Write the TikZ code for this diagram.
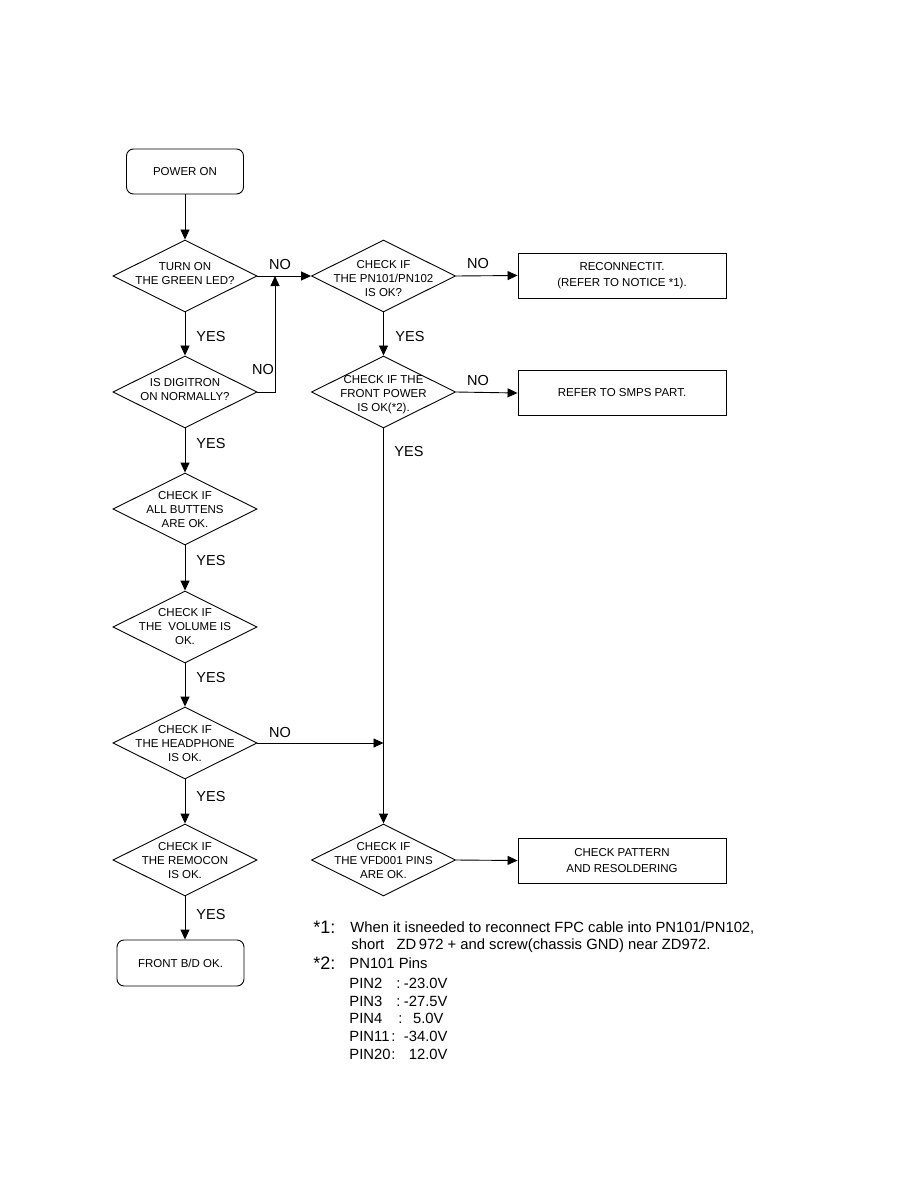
\documentclass[tikz,border=0pt]{standalone}
\usepackage{fontspec}
\setmainfont{Liberation Sans}
\usetikzlibrary{shapes.geometric,arrows.meta}
\newcommand{\pinline}[4]{\makebox[#1][l]{#2}:\makebox[#3][r]{#4}}
\begin{document}
\begin{tikzpicture}[x=1pt,y=-1pt,
 line width=0.9pt,
 every node/.style={inner sep=0pt},
 dia/.style={draw,shape=diamond,minimum width=144pt,minimum height=72pt,inner sep=0pt},
 dtext/.style={font=\fontsize{11.5}{14}\selectfont,align=center},
 rbox/.style={draw,rounded corners=7pt,font=\fontsize{11.5}{14}\selectfont,align=center},
 sbox/.style={draw,minimum width=208pt,minimum height=45pt,font=\fontsize{11.5}{16}\selectfont,align=center},
 lbl/.style={font=\fontsize{14.5}{17}\selectfont},
 arr/.style={-{Triangle[length=10pt,width=9pt]}},
 note/.style={font=\fontsize{14.8}{17}\selectfont,anchor=base west},
 star/.style={font=\fontsize{18}{20}\selectfont,anchor=base west},
]
\useasboundingbox[fill=white] (0,0) rectangle (914,1190);

% left column
\node[rbox,minimum width=117pt,minimum height=45pt] (pon) at (185,171.5) {POWER ON};
\node[dia] (d1) at (185,276) {};
\node[dtext] (d1t) at (185,274) {TURN ON\\THE GREEN LED?};
\node[dia] (d2) at (185,392) {};
\node[dtext] (d2t) at (185,390) {IS DIGITRON\\ON NORMALLY?};
\node[dia] (d3) at (185,509) {};
\node[dtext] (d3t) at (185,510) {CHECK IF\\ALL BUTTENS\\ARE OK.};
\node[dia] (d4) at (185,627) {};
\node[dtext] (d4t) at (185,627) {CHECK IF\\THE\ \ VOLUME IS\\OK.};
\node[dia] (d5) at (185,743) {};
\node[dtext] (d5t) at (185,744) {CHECK IF\\THE HEADPHONE\\IS OK.};
\node[dia] (d6) at (185,860) {};
\node[dtext] (d6t) at (185,861) {CHECK IF\\THE REMOCON\\IS OK.};
\node[rbox,minimum width=127pt,minimum height=46pt] (fin) at (180.5,963) {FRONT B/D OK.};

% right column
\node[dia] (r1) at (383.5,276) {};
\node[dtext] (r1t) at (383.5,279) {CHECK IF\\THE PN101/PN102\\IS OK?};
\node[dia] (r2) at (383.5,392) {};
\node[dtext] (r2t) at (383.5,395) {CHECK IF THE\\FRONT POWER\\IS OK(*2).};
\node[dia] (r3) at (383.5,860) {};
\node[dtext] (r3t) at (383.5,861) {CHECK IF\\THE VFD001 PINS\\ARE OK.};

\node[sbox] (b1) at (622,275.5) {RECONNECTIT.\\(REFER TO NOTICE *1).};
\node[sbox] (b2) at (622,393) {REFER TO SMPS PART.};
\node[sbox] (b3) at (622,860.5) {CHECK PATTERN\\AND RESOLDERING};

% connectors
\coordinate (j1) at (275,276);
\coordinate (j2) at (383.5,743);
\draw[arr] (pon) -- (d1);
\draw[arr] (d1) -- (d2);
\draw[arr] (d2) -- (d3);
\draw[arr] (d3) -- (d4);
\draw[arr] (d4) -- (d5);
\draw[arr] (d5) -- (d6);
\draw[arr] (d6.south) -- (d6.south |- fin.north);
\draw[arr] (d1.east) -- (r1.west);
\draw[arr] (d2.east) -| (j1);
\draw[arr] (r1.east) -- (b1.west);
\draw[arr] (r1) -- (r2);
\draw[arr] (r2.east) -- (b2.west);
\draw[arr] (r2) -- (r3);
\draw[arr] (d5.east) -- (j2);
\draw[arr] (r3.east) -- (b3.west);

% labels
\node[lbl] (y1) at (211,337) {YES};
\node[lbl] (y2) at (211,444) {YES};
\node[lbl] (y3) at (211,561) {YES};
\node[lbl] (y4) at (211,678) {YES};
\node[lbl] (y5) at (211,796) {YES};
\node[lbl] (y6) at (211,914) {YES};
\node[lbl] (y7) at (410,337) {YES};
\node[lbl] (y8) at (409,452) {YES};
\node[lbl] (n1) at (280,265) {NO};
\node[lbl] (n2) at (263,370) {NO};
\node[lbl] (n3) at (478,264) {NO};
\node[lbl] (n4) at (478,381) {NO};
\node[lbl] (n5) at (280,733) {NO};

% notes (baselines)
\node[star] (s1) at (313,933) {*1:};
\node[note] (t1a) at (350,932) {When it isneeded to reconnect FPC cable into PN101/PN102,};
\node[note] (t1b) at (351,949) {short\ \ \ ZD\,972 + and screw(chassis GND) near ZD972.};
\node[star] (s2) at (313,969) {*2:};
\node[note] (t2) at (349,968) {PN101 Pins};
\node[note] (pa) at (349,988) {\pinline{47pt}{PIN2}{47pt}{-23.0V}};
\node[note] (pb) at (349,1006) {\pinline{47pt}{PIN3}{47pt}{-27.5V}};
\node[note] (pc) at (349,1023) {\pinline{49pt}{PIN4}{41pt}{5.0V}};
\node[note] (pd) at (349,1041) {\pinline{42pt}{PIN11}{52pt}{-34.0V}};
\node[note] (pe) at (349,1059) {\pinline{42pt}{PIN20}{52pt}{12.0V}};
\end{tikzpicture}
\end{document}
